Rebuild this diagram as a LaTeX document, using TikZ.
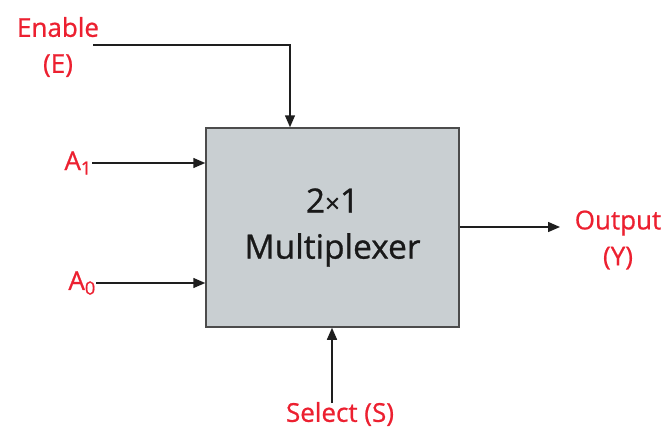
\documentclass[tikz,border=0pt]{standalone}
\usepackage{fontspec}
\setmainfont{Open Sans}
\usetikzlibrary{arrows.meta}
\definecolor{lbl}{RGB}{236,32,48}
\definecolor{boxfill}{RGB}{201,207,210}
\definecolor{wire}{RGB}{30,30,30}
\begin{document}
\begin{tikzpicture}[x=1pt,y=-1pt,
  label/.style={text=lbl,font=\fontsize{26}{36}\selectfont\addfontfeature{FakeBold=0.8},inner sep=0pt,align=center},
  wirearrow/.style={draw=wire,line width=1.5pt,-{Triangle[length=12pt,width=10pt]}},
  muxbox/.style={draw=black!70,line width=1.5pt,fill=boxfill,minimum width=253pt,minimum height=199pt,inner sep=0pt,
    font=\fontsize{33.5}{46}\selectfont\addfontfeature{FakeBold=0.8},text=black!90,align=center}]
\useasboundingbox (0,0) rectangle (670,429);
\node[muxbox] (mux) at (332.5,227.5) {2{\fontsize{26}{26}\selectfont\texttimes}1\\Multiplexer};
\node[label,anchor=center] (en) at (58,47) {Enable\\(E)};
\node[label,anchor=east] (a1) at (92,163) {A\textsubscript{1}};
\node[label,anchor=east] (a0) at (96,283) {A\textsubscript{0}};
\node[label] (out) at (618,240) {Output\\(Y)};
\node[label] (sel) at (340,414) {Select (S)};
\coordinate (enstart) at (93,45);
\coordinate (encorner) at (290,45);
\coordinate (selstart) at (332,403);
\coordinate (outend) at (560,227);
\draw[wirearrow] (enstart) -- (encorner) -- (encorner |- mux.north);
\draw[wirearrow] (a1.east) -- (a1.east -| mux.west);
\draw[wirearrow] (a0.east) -- (a0.east -| mux.west);
\draw[wirearrow] (mux.east |- outend) -- (outend);
\draw[wirearrow] (selstart) -- (selstart |- mux.south);
\end{tikzpicture}
\end{document}
